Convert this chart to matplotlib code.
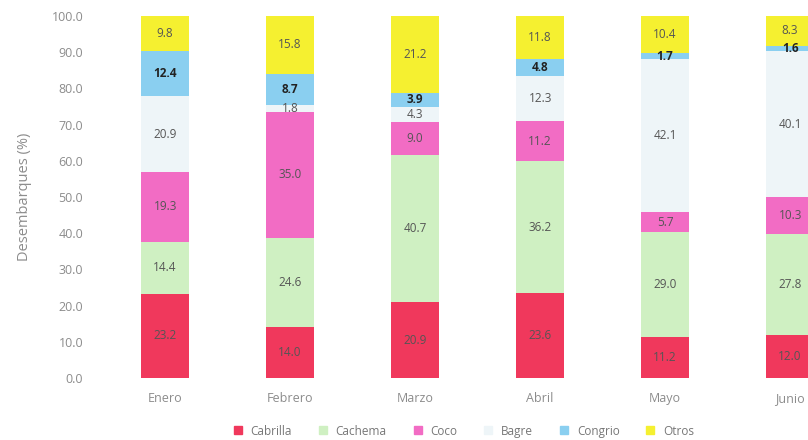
import matplotlib.pyplot as plt
import numpy as np
from matplotlib.lines import Line2D

months = ["Enero", "Febrero", "Marzo", "Abril", "Mayo", "Junio"]
species = ["Cabrilla", "Cachema", "Coco", "Bagre", "Congrio", "Otros"]
cabrilla = [23.2, 14.0, 20.9, 23.6, 11.2, 12.0]
cachema = [14.4, 24.6, 40.7, 36.2, 29.0, 27.8]
coco = [19.3, 35.0, 9.0, 11.2, 5.7, 10.3]
bagre = [20.9, 1.8, 4.3, 12.3, 42.1, 40.1]
congrio = [12.4, 8.7, 3.9, 4.8, 1.7, 1.6]
otros = [9.8, 15.8, 21.2, 11.8, 10.4, 8.3]
yticks = [0, 10, 20, 30, 40, 50, 60, 70, 80, 90, 100]

series = [cabrilla, cachema, coco, bagre, congrio, otros]
colors = ["#F0385C", "#CFF0C2", "#F26CC4", "#EEF5F8", "#8ACFF0", "#F5F030"]

plt.rcParams["font.family"] = ["Open Sans", "DejaVu Sans"]

fig = plt.figure(figsize=(8.08, 4.40), dpi=100)
# the last month runs off the right edge, as in the original
ax = fig.add_axes([0.127, 0.141, 6 * 125 / 808, 0.8227])

x = np.arange(len(months))
bottom = np.zeros(len(months))
for name, vals, color in zip(species, series, colors):
    vals = np.array(vals)
    ax.bar(x, vals, width=0.39, bottom=bottom, color=color, label=name)
    weight = "bold" if name == "Congrio" else "normal"
    tcolor = "#222222" if name == "Congrio" else "#555555"
    for xi, b, v in zip(x, bottom, vals):
        ax.text(xi, b + v / 2, f"{v:.1f}", ha="center", va="center",
                fontsize=8.5, color=tcolor, fontweight=weight)
    bottom += vals

ax.set_xlim(-0.5, len(months) - 0.5)
ax.set_ylim(0, 100)
ax.set_yticks(yticks, [f"{t:.1f}" for t in yticks])
ax.set_xticks(x, months)
ax.tick_params(axis="both", length=0, colors="#8C8C8C", labelsize=9)
ax.tick_params(axis="y", pad=14)
ax.tick_params(axis="x", pad=10)
for s in ax.spines.values():
    s.set_visible(False)
ax.set_ylabel("Desembarques (%)", color="#8C8C8C", fontsize=10.5, labelpad=14)

handles = [Line2D([], [], marker="s", linestyle="none", markersize=6,
                  markerfacecolor=c, markeredgecolor=c) for c in colors]
fig.legend(handles, species, loc="center", bbox_to_anchor=(460 / 808, 1 - 431 / 440),
           ncol=6, frameon=False, fontsize=8.5, labelcolor="#777777",
           handletextpad=0.1, columnspacing=1.6)

fig.savefig("out.png", dpi=100)
